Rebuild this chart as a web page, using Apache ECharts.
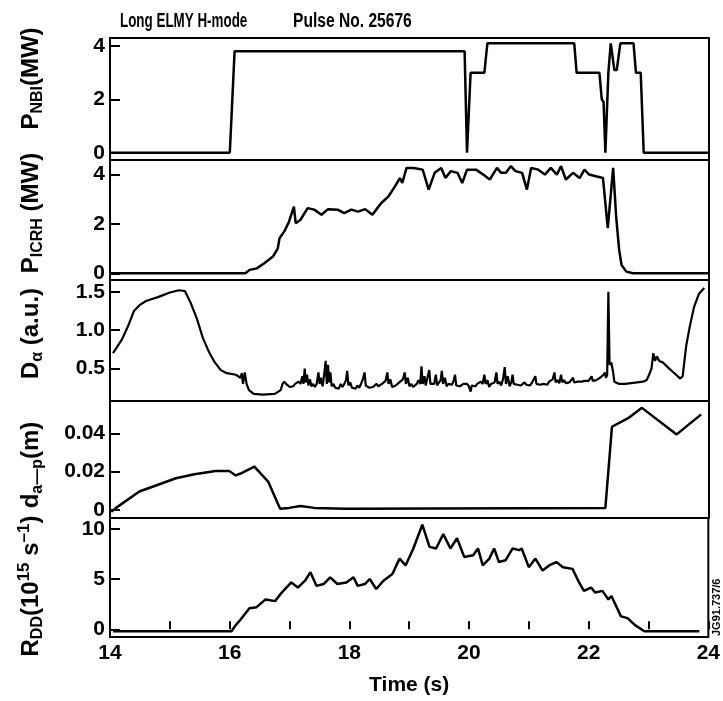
<!DOCTYPE html>
<html><head><meta charset="utf-8">
<script src="https://cdn.jsdelivr.net/npm/echarts@6/dist/echarts.min.js"></script>
<style>html,body{margin:0;padding:0;background:#fff}#c{width:723px;height:701px}</style>
</head><body><div id="c"></div>
<script>
// ---- Data (time in s) ----
const nbiT = [14, 16.0, 16.08, 19.92, 19.96, 20.02, 20.25, 20.3, 21.75, 21.79, 22.17, 22.21, 22.24, 22.27, 22.32, 22.36, 22.42, 22.46, 22.52, 22.57, 22.74, 22.78, 22.86, 22.91, 24];
const nbiV = [0, 0, 3.8, 3.8, 0, 3.0, 3.0, 4.1, 4.1, 3.0, 3.0, 2.0, 1.9, 0, 3.0, 4.1, 3.1, 3.1, 4.1, 4.1, 4.1, 3.0, 3.0, 0, 0];

const icrhT = [14, 16.26, 16.33, 16.45, 16.57, 16.72, 16.8, 16.83, 16.91, 16.99, 17.07, 17.1, 17.18, 17.3, 17.41, 17.53, 17.64, 17.8, 17.91, 18.03, 18.14, 18.26, 18.38, 18.45, 18.53, 18.65, 18.76, 18.84, 18.88, 18.95, 19.07, 19.22, 19.32, 19.42, 19.53, 19.6, 19.69, 19.8, 19.88, 19.96, 20.11, 20.23, 20.34, 20.46, 20.53, 20.61, 20.69, 20.77, 20.88, 20.96, 21.03, 21.15, 21.26, 21.36, 21.46, 21.53, 21.61, 21.73, 21.84, 21.92, 22.0, 22.11, 22.23, 22.31, 22.4, 22.45, 22.5, 22.54, 22.62, 22.73, 24];
const icrhV = [0, 0, 0.14, 0.2, 0.4, 0.68, 1.0, 1.42, 1.7, 2.1, 2.7, 2.03, 2.17, 2.64, 2.58, 2.37, 2.6, 2.58, 2.44, 2.58, 2.5, 2.6, 2.37, 2.6, 2.85, 3.12, 3.53, 3.86, 3.66, 4.27, 4.27, 4.2, 3.39, 4.07, 4.27, 3.86, 4.14, 4.07, 3.66, 4.2, 4.2, 4.0, 3.8, 4.27, 4.07, 4.07, 4.34, 4.14, 4.07, 3.39, 4.27, 4.2, 4.0, 4.27, 4.0, 4.34, 3.8, 4.07, 3.86, 4.2, 4.0, 3.93, 3.86, 1.83, 4.27, 2.3, 0.95, 0.34, 0.07, 0, 0];

const daT = [14.05, 14.1, 14.2, 14.3, 14.4, 14.5, 14.6, 14.8, 15.0, 15.15, 15.25, 15.35, 15.45, 15.55, 15.65, 15.75, 15.85, 15.95, 16.1, 16.18, 16.2, 16.22, 16.25, 16.28, 16.32, 16.4, 16.55, 16.75,
  16.85, 16.88, 16.91, 16.94, 16.97, 17.0, 17.03, 17.06, 17.09, 17.12, 17.15, 17.18, 17.21, 17.23, 17.25, 17.27, 17.29, 17.31, 17.34, 17.36, 17.39, 17.42, 17.45, 17.48, 17.5, 17.52, 17.55, 17.58, 17.6, 17.62, 17.64, 17.66, 17.68, 17.7, 17.73, 17.76, 17.79, 17.82, 17.85, 17.88, 17.91, 17.94, 17.96, 17.98,
  18.01, 18.04, 18.07, 18.1, 18.13, 18.16, 18.19, 18.22, 18.25, 18.27, 18.3, 18.33, 18.36, 18.39, 18.42, 18.45, 18.48, 18.51, 18.54, 18.57, 18.6, 18.63, 18.65, 18.68, 18.71, 18.74, 18.77, 18.8, 18.83, 18.86, 18.89, 18.92, 18.94, 18.97,
  19.0, 19.03, 19.06, 19.09, 19.12, 19.15, 19.18, 19.2, 19.22, 19.25, 19.27, 19.3, 19.33, 19.35, 19.38, 19.41, 19.44, 19.46, 19.49, 19.52, 19.54, 19.56, 19.59, 19.62, 19.65, 19.68, 19.71, 19.74, 19.76, 19.78, 19.81, 19.84, 19.87, 19.9, 19.93, 19.96, 19.99,
  20.02, 20.04, 20.07, 20.1, 20.13, 20.16, 20.19, 20.22, 20.25, 20.27, 20.3, 20.33, 20.36, 20.39, 20.42, 20.45, 20.47, 20.5, 20.53, 20.56, 20.59, 20.61, 20.64, 20.67, 20.7, 20.72, 20.74, 20.77, 20.8, 20.83, 20.86, 20.89, 20.92, 20.95, 20.98,
  21.01, 21.04, 21.07, 21.1, 21.12, 21.15, 21.18, 21.21, 21.24, 21.27, 21.3, 21.33, 21.36, 21.39, 21.42, 21.44, 21.47, 21.5, 21.53, 21.55, 21.58, 21.61, 21.64, 21.67, 21.7, 21.73, 21.75, 21.78, 21.81, 21.84, 21.87, 21.9, 21.93, 21.96, 21.99,
  22.02, 22.04, 22.06, 22.09, 22.12, 22.15, 22.18, 22.21, 22.24, 22.26, 22.28, 22.3, 22.32, 22.34, 22.37, 22.4, 22.42,
  22.5, 22.6, 22.7, 22.8, 22.9, 22.96, 23.0, 23.04, 23.07, 23.1, 23.13, 23.17, 23.23, 23.35, 23.45, 23.52, 23.56, 23.62, 23.68, 23.75, 23.83, 23.92];
const daV = [0.7, 0.76, 0.88, 1.05, 1.25, 1.33, 1.38, 1.43, 1.49, 1.52, 1.51, 1.35, 1.15, 0.9, 0.72, 0.58, 0.48, 0.44, 0.42, 0.38, 0.44, 0.3, 0.45, 0.3, 0.22, 0.17, 0.16, 0.17,
  0.22, 0.3, 0.33, 0.3, 0.28, 0.26, 0.25, 0.27, 0.3, 0.28, 0.33, 0.3, 0.4, 0.3, 0.5, 0.32, 0.42, 0.28, 0.36, 0.27, 0.3, 0.26, 0.3, 0.45, 0.3, 0.38, 0.27, 0.45, 0.6, 0.3, 0.55, 0.32, 0.45, 0.27, 0.3, 0.25, 0.27, 0.24, 0.3, 0.26, 0.3, 0.35, 0.47, 0.28,
  0.32, 0.25, 0.26, 0.24, 0.28, 0.25, 0.3, 0.36, 0.45, 0.28, 0.3, 0.25, 0.23, 0.26, 0.25, 0.3, 0.27, 0.26, 0.3, 0.28, 0.34, 0.45, 0.3, 0.36, 0.26, 0.25, 0.28, 0.26, 0.32, 0.3, 0.36, 0.45, 0.3, 0.38,
  0.27, 0.3, 0.26, 0.28, 0.3, 0.35, 0.3, 0.53, 0.3, 0.4, 0.28, 0.3, 0.48, 0.3, 0.28, 0.3, 0.42, 0.28, 0.3, 0.35, 0.47, 0.3, 0.38, 0.27, 0.3, 0.28, 0.29, 0.35, 0.42, 0.28, 0.3, 0.27, 0.29, 0.3, 0.28, 0.3, 0.27,
  0.2, 0.28, 0.3, 0.27, 0.3, 0.28, 0.33, 0.3, 0.42, 0.3, 0.35, 0.26, 0.3, 0.28, 0.32, 0.45, 0.3, 0.33, 0.28, 0.36, 0.52, 0.3, 0.4, 0.27, 0.32, 0.42, 0.3, 0.32, 0.29, 0.31, 0.28, 0.3, 0.32, 0.29, 0.3,
  0.28, 0.31, 0.33, 0.4, 0.3, 0.32, 0.29, 0.31, 0.3, 0.32, 0.29, 0.33, 0.31, 0.36, 0.45, 0.32, 0.35, 0.31, 0.42, 0.32, 0.35, 0.31, 0.33, 0.32, 0.34, 0.38, 0.32, 0.34, 0.33, 0.34, 0.33, 0.35, 0.34, 0.35, 0.34,
  0.36, 0.4, 0.34, 0.35, 0.35, 0.36, 0.38, 0.36, 0.42, 0.45, 0.38, 0.42, 1.5, 0.55, 0.58, 0.45, 0.33,
  0.3, 0.3, 0.31, 0.32, 0.33, 0.35, 0.42, 0.5, 0.7, 0.6, 0.66, 0.6, 0.58, 0.49, 0.42, 0.37, 0.4, 0.8, 1.05, 1.3, 1.47, 1.55];

const dapT = [14.02, 14.1, 14.49, 14.79, 15.1, 15.41, 15.76, 15.99, 16.1, 16.18, 16.41, 16.64, 16.84, 16.99, 17.18, 17.41, 17.95, 22.27, 22.38, 22.65, 22.88, 23.46, 23.87];
const dapV = [-0.001, 0.001, 0.0096, 0.013, 0.0165, 0.0186, 0.0203, 0.0203, 0.018, 0.019, 0.0226, 0.0148, 0.0005, 0.001, 0.002, 0.001, 0.0005, 0.001, 0.0435, 0.048, 0.0534, 0.0395, 0.05];

const rddT = [14.05, 16.03, 16.1, 16.18, 16.33, 16.45, 16.6, 16.76, 16.87, 17.03, 17.14, 17.26, 17.35, 17.45, 17.57, 17.68, 17.8, 17.95, 18.07, 18.14, 18.26, 18.34, 18.45, 18.57, 18.72, 18.84, 18.94, 19.07, 19.22, 19.34, 19.45, 19.57, 19.69, 19.8, 19.92, 20.07, 20.15, 20.23, 20.34, 20.42, 20.5, 20.61, 20.73, 20.84, 20.88, 21.0, 21.11, 21.23, 21.34, 21.46, 21.57, 21.73, 21.84, 21.92, 22.04, 22.11, 22.23, 22.33, 22.38, 22.54, 22.65, 22.77, 22.93, 23.85];
const rddV = [-0.2, -0.2, 0.4, 0.95, 2.1, 2.2, 2.97, 2.8, 3.65, 4.66, 4.15, 4.83, 5.68, 4.32, 4.5, 5.17, 4.5, 4.66, 5.17, 4.32, 4.5, 5.0, 4.0, 4.83, 5.5, 7.03, 6.35, 8.04, 10.4, 8.2, 8.04, 9.46, 8.04, 9.05, 7.2, 7.36, 8.04, 6.35, 7.03, 8.04, 6.69, 6.86, 8.04, 7.87, 8.04, 6.18, 7.03, 5.84, 6.35, 6.69, 6.18, 6.01, 4.66, 3.82, 4.15, 3.65, 3.82, 2.97, 3.31, 1.28, 1.11, 0.44, -0.2, -0.2];

const xTicks = [14, 15, 16, 17, 18, 19, 20, 21, 22, 23, 24];
const xLabels = [14, 16, 18, 20, 22, 24];
const yTicks = [[0, 2, 4], [0, 2, 4], [0.5, 1.0, 1.5], [0, 0.02, 0.04], [0, 5, 10]];
const yLabelText = [['0', '2', '4'], ['0', '2', '4'], ['0.5', '1.0', '1.5'], ['0', '0.02', '0.04'], ['0', '5', '10']];
const yNames = [
  '{m|P}{s|NBI}{m|(MW)}',
  '{m|P}{s|ICRH}{m| (MW)}',
  '{m|D}{s|α}{m| (a.u.)}',
  '{m|d}{s|a—p}{m|(m)}',
  '{m|R}{s|DD}{m|(10}{p|15}{m| s}{p|–1}{m|)}'
];
const titleLeft = 'Long ELMY H-mode';
const titleRight = 'Pulse No. 25676';
const xName = 'Time (s)';
const stamp = 'JG91.737/6';

// ---- Layout ----
const FF = '"Liberation Sans", Arial, Helvetica, sans-serif';
const panels = [
  {top: 38, h: 122, min: -0.27, max: 4.3, pad: [0, 0, 0, 41]},
  {top: 160, h: 120, min: -0.27, max: 4.59, pad: [0, 0, 0, 14]},
  {top: 280, h: 121, min: 0.078, max: 1.653, pad: [0, 0, 0, 14]},
  {top: 401, h: 117, min: -0.0043, max: 0.057, pad: [0, 11, 0, 0]},
  {top: 518, h: 119, min: -0.77, max: 11.07, pad: [0, 17, 0, 0]}
];
const zip = (t, v) => t.map((x, i) => [x, v[i]]);
const seriesData = [zip(nbiT, nbiV), zip(icrhT, icrhV), zip(daT, daV), zip(dapT, dapV), zip(rddT, rddV)];

const rich = {
  m: {fontSize: 24, fontWeight: 'bold', fontFamily: FF, color: '#000', lineHeight: 30, verticalAlign: 'middle'},
  s: {fontSize: 16, fontWeight: 'bold', fontFamily: FF, color: '#000', lineHeight: 15, verticalAlign: 'bottom'},
  p: {fontSize: 17, fontWeight: 'bold', fontFamily: FF, color: '#000', lineHeight: 15, verticalAlign: 'top'}
};

const grid = [], xAxis = [], yAxis = [], series = [];
panels.forEach((p, i) => {
  const last = i === panels.length - 1;
  grid.push({left: 110, width: 599, top: p.top, height: p.h, show: true, borderColor: '#000', borderWidth: 2, backgroundColor: 'transparent'});
  xAxis.push({
    gridIndex: i, type: 'value', min: 14, max: 24, interval: 1,
    axisLine: {show: false}, splitLine: {show: false},
    axisTick: {show: last, inside: true, length: 8, lineStyle: {color: '#000', width: 2}, customValues: xTicks},
    axisLabel: {show: last, customValues: xLabels, color: '#000', fontSize: 21, fontWeight: 'bold', fontFamily: FF, margin: 6},
    name: last ? xName : '', nameLocation: 'middle', nameGap: 38,
    nameTextStyle: {color: '#000', fontSize: 21, fontWeight: 'bold', fontFamily: FF}
  });
  yAxis.push({
    gridIndex: i, type: 'value', min: p.min, max: p.max,
    axisLine: {show: false}, splitLine: {show: false},
    axisTick: {show: true, inside: true, length: 10, lineStyle: {color: '#000', width: 2}, customValues: yTicks[i]},
    axisLabel: {customValues: yTicks[i], color: '#000', fontSize: 21, fontWeight: 'bold', fontFamily: FF, margin: 5,
      formatter: (v) => { const k = yTicks[i].findIndex(t => Math.abs(t - v) < 1e-9); return k >= 0 ? yLabelText[i][k] : ''; }},
    name: yNames[i], nameLocation: 'middle', nameGap: 64, nameRotate: 90,
    nameTextStyle: {rich: rich, color: '#000', padding: p.pad}
  });
  series.push({type: 'line', xAxisIndex: i, yAxisIndex: i, data: seriesData[i], showSymbol: false, symbol: 'none',
    lineStyle: {color: '#000', width: i === 2 ? 2.2 : 2.5}, animation: false, clip: true});
});

const chart = echarts.init(document.getElementById('c'), null, {renderer: 'canvas'});
chart.setOption({
  animation: false,
  backgroundColor: '#fff',
  grid, xAxis, yAxis, series,
  graphic: [
    {type: 'text', x: 120, y: 11, scaleX: 0.67, style: {text: titleLeft, fontSize: 20, fontFamily: FF, fontWeight: 'bold', fill: '#000'}},
    {type: 'text', x: 293, y: 11, scaleX: 0.78, style: {text: titleRight, fontSize: 20, fontFamily: FF, fontWeight: 'bold', fill: '#000'}},
    {type: 'text', x: 722, y: 636, rotation: Math.PI / 2, style: {text: stamp, fontSize: 11, fontFamily: FF, fontWeight: 'bold', fill: '#000', align: 'left', verticalAlign: 'bottom'}}
  ]
});
</script></body></html>
